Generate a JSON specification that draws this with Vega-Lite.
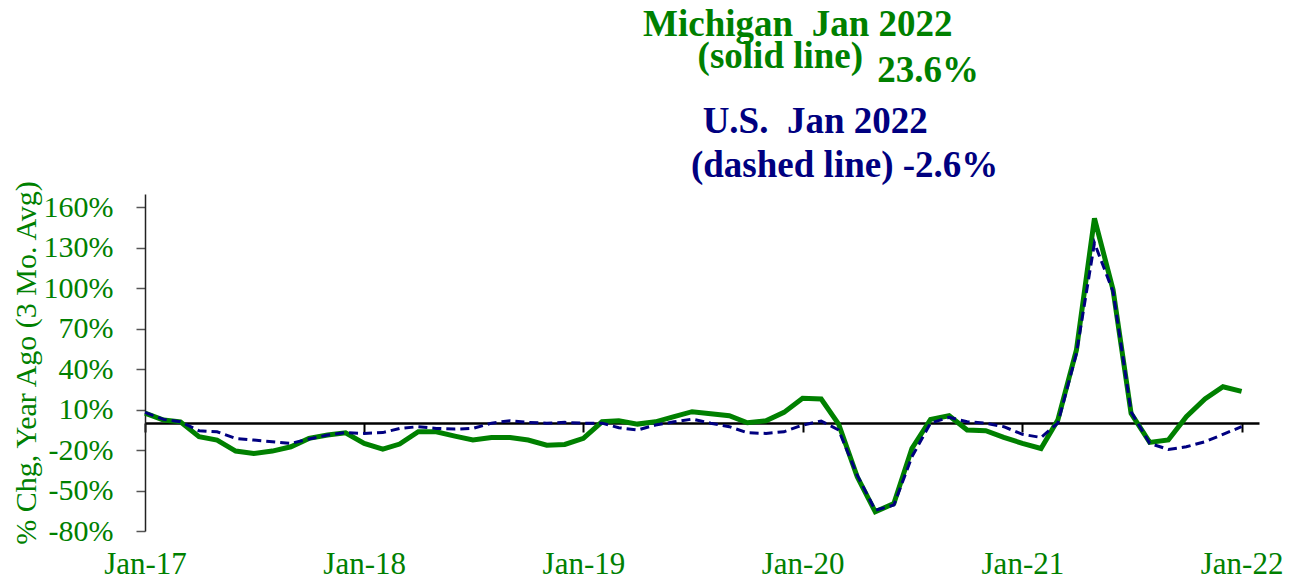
{
  "$schema": "https://vega.github.io/schema/vega-lite/v6.json",
  "width": 1114,
  "height": 337,
  "autosize": {"type": "none"},
  "padding": {"left": 145, "top": 194, "right": 36, "bottom": 51},
  "background": "white",
  "config": {
    "view": {"stroke": null},
    "font": "Liberation Serif",
    "axis": {"grid": false, "labelFont": "Liberation Serif", "titleFont": "Liberation Serif"},
    "text": {"font": "Liberation Serif"}
  },
  "data": {
    "values": [
      {"date": "2017-01-01T00:00", "michigan": 7.5, "us": 8},
      {"date": "2017-02-01T00:00", "michigan": 2.3, "us": 2.8},
      {"date": "2017-03-01T00:00", "michigan": 1, "us": 1},
      {"date": "2017-04-01T00:00", "michigan": -10, "us": -5.6},
      {"date": "2017-05-01T00:00", "michigan": -12.5, "us": -6.4},
      {"date": "2017-06-01T00:00", "michigan": -20.7, "us": -11.3},
      {"date": "2017-07-01T00:00", "michigan": -22.5, "us": -12.5},
      {"date": "2017-08-01T00:00", "michigan": -20.7, "us": -13.8},
      {"date": "2017-09-01T00:00", "michigan": -17.5, "us": -15},
      {"date": "2017-10-01T00:00", "michigan": -11.3, "us": -11.8},
      {"date": "2017-11-01T00:00", "michigan": -8.8, "us": -8.8},
      {"date": "2017-12-01T00:00", "michigan": -7.1, "us": -7},
      {"date": "2018-01-01T00:00", "michigan": -15, "us": -7.6},
      {"date": "2018-02-01T00:00", "michigan": -19.2, "us": -7},
      {"date": "2018-03-01T00:00", "michigan": -15.5, "us": -3.9},
      {"date": "2018-04-01T00:00", "michigan": -6.4, "us": -2.6},
      {"date": "2018-05-01T00:00", "michigan": -6.4, "us": -3.9},
      {"date": "2018-06-01T00:00", "michigan": -9.6, "us": -4.4},
      {"date": "2018-07-01T00:00", "michigan": -12.5, "us": -3.9},
      {"date": "2018-08-01T00:00", "michigan": -10.6, "us": 0},
      {"date": "2018-09-01T00:00", "michigan": -10.6, "us": 1.8},
      {"date": "2018-10-01T00:00", "michigan": -12.5, "us": 0.6},
      {"date": "2018-11-01T00:00", "michigan": -16.3, "us": 0},
      {"date": "2018-12-01T00:00", "michigan": -15.8, "us": 0.6},
      {"date": "2019-01-01T00:00", "michigan": -11.3, "us": 0},
      {"date": "2019-02-01T00:00", "michigan": 1, "us": 0},
      {"date": "2019-03-01T00:00", "michigan": 1.8, "us": -3.4},
      {"date": "2019-04-01T00:00", "michigan": -0.7, "us": -5.1},
      {"date": "2019-05-01T00:00", "michigan": 1, "us": -1.4},
      {"date": "2019-06-01T00:00", "michigan": 4.8, "us": 1},
      {"date": "2019-07-01T00:00", "michigan": 8.5, "us": 3},
      {"date": "2019-08-01T00:00", "michigan": 7, "us": 0},
      {"date": "2019-09-01T00:00", "michigan": 5.5, "us": -2.6},
      {"date": "2019-10-01T00:00", "michigan": 0.3, "us": -7.1},
      {"date": "2019-11-01T00:00", "michigan": 1.8, "us": -7.6},
      {"date": "2019-12-01T00:00", "michigan": 8, "us": -6.4},
      {"date": "2020-01-01T00:00", "michigan": 18.4, "us": -1.4},
      {"date": "2020-02-01T00:00", "michigan": 17.9, "us": 1.6},
      {"date": "2020-03-01T00:00", "michigan": -0.7, "us": -5.1},
      {"date": "2020-04-01T00:00", "michigan": -39.8, "us": -38.6},
      {"date": "2020-05-01T00:00", "michigan": -65.8, "us": -64.6},
      {"date": "2020-06-01T00:00", "michigan": -59.6, "us": -60.8},
      {"date": "2020-07-01T00:00", "michigan": -18.8, "us": -25},
      {"date": "2020-08-01T00:00", "michigan": 2.8, "us": 0},
      {"date": "2020-09-01T00:00", "michigan": 5.5, "us": 4.3},
      {"date": "2020-10-01T00:00", "michigan": -5.1, "us": 1},
      {"date": "2020-11-01T00:00", "michigan": -5.6, "us": 0},
      {"date": "2020-12-01T00:00", "michigan": -10.6, "us": -2.6},
      {"date": "2021-01-01T00:00", "michigan": -15, "us": -8.3},
      {"date": "2021-02-01T00:00", "michigan": -18.8, "us": -10.6},
      {"date": "2021-03-01T00:00", "michigan": 2.3, "us": 0},
      {"date": "2021-04-01T00:00", "michigan": 54.3, "us": 51.8},
      {"date": "2021-05-01T00:00", "michigan": 152, "us": 133.6},
      {"date": "2021-06-01T00:00", "michigan": 98.9, "us": 97.6},
      {"date": "2021-07-01T00:00", "michigan": 7.3, "us": 8.5},
      {"date": "2021-08-01T00:00", "michigan": -14.3, "us": -15},
      {"date": "2021-09-01T00:00", "michigan": -12.5, "us": -19.5},
      {"date": "2021-10-01T00:00", "michigan": 4.8, "us": -17.5},
      {"date": "2021-11-01T00:00", "michigan": 17.9, "us": -13.8},
      {"date": "2021-12-01T00:00", "michigan": 27, "us": -8.3},
      {"date": "2022-01-01T00:00", "michigan": 23.6, "us": -2.6}
    ]
  },
  "resolve": {"axis": {"x": "independent"}},
  "layer": [
    {
      "mark": {"type": "point", "opacity": 0},
      "encoding": {
        "x": {
          "field": "date", "type": "temporal",
          "scale": {"domain": [{"year": 2017, "month": 1, "date": 1}, {"year": 2022, "month": 1, "date": 30}]},
          "axis": {
            "orient": "bottom", "offset": -108, "labels": false, "title": null,
            "domain": true, "domainColor": "black", "domainWidth": 2.5,
            "ticks": true, "tickColor": "black", "tickWidth": 2, "tickSize": 9,
            "values": [
              {"year": 2017, "month": 1, "date": 1}, {"year": 2018, "month": 1, "date": 1},
              {"year": 2019, "month": 1, "date": 1}, {"year": 2020, "month": 1, "date": 1},
              {"year": 2021, "month": 1, "date": 1}, {"year": 2022, "month": 1, "date": 1}
            ]
          }
        }
      }
    },
    {
      "mark": {"type": "line", "color": "#008000", "strokeWidth": 5, "strokeJoin": "miter"},
      "encoding": {
        "x": {
          "field": "date", "type": "temporal",
          "axis": {
            "orient": "bottom", "title": null, "domain": false, "ticks": false,
            "format": "%b-%y", "labelFontSize": 31, "labelColor": "#008000", "labelPadding": 18,
            "labelFlush": false, "labelAlign": "center",
            "values": [
              {"year": 2017, "month": 1, "date": 1}, {"year": 2018, "month": 1, "date": 1},
              {"year": 2019, "month": 1, "date": 1}, {"year": 2020, "month": 1, "date": 1},
              {"year": 2021, "month": 1, "date": 1}, {"year": 2022, "month": 1, "date": 1}
            ]
          }
        },
        "y": {
          "field": "michigan", "type": "quantitative",
          "scale": {"domain": [-80, 170], "nice": false},
          "axis": {
            "title": "% Chg, Year Ago (3 Mo. Avg)", "titleFontSize": 30, "titleColor": "#008000",
            "titleFontWeight": "normal", "titlePadding": 2,
            "values": [-80, -50, -20, 10, 40, 70, 100, 130, 160],
            "labelExpr": "datum.value + '%'",
            "labelFontSize": 30, "labelColor": "#008000", "labelPadding": 23,
            "domainColor": "#222222", "domainWidth": 1.5,
            "tickColor": "#555555", "tickSize": 9, "tickWidth": 1.5
          }
        }
      }
    },
    {
      "mark": {"type": "line", "color": "#000080", "strokeWidth": 3, "strokeDash": [9, 5]},
      "encoding": {
        "x": {"field": "date", "type": "temporal", "axis": null},
        "y": {"field": "us", "type": "quantitative"}
      }
    },
    {
      "data": {"values": [{}]},
      "mark": {"type": "text", "text": "Michigan \u00a0Jan 2022", "fontSize": 37, "fontWeight": "bold", "color": "#008000", "align": "center", "baseline": "alphabetic"},
      "encoding": {
        "x": {"datum": {"year": 2019, "month": 12, "date": 24}, "type": "temporal", "axis": null},
        "y": {"datum": 287, "type": "quantitative"}
      }
    },
    {
      "data": {"values": [{}]},
      "mark": {"type": "text", "text": "(solid line)", "fontSize": 37, "fontWeight": "bold", "color": "#008000", "align": "center", "baseline": "alphabetic"},
      "encoding": {
        "x": {"datum": {"year": 2019, "month": 11, "date": 25}, "type": "temporal", "axis": null},
        "y": {"datum": 263.5, "type": "quantitative"}
      }
    },
    {
      "data": {"values": [{}]},
      "mark": {"type": "text", "text": "23.6%", "fontSize": 37, "fontWeight": "bold", "color": "#008000", "align": "center", "baseline": "alphabetic"},
      "encoding": {
        "x": {"datum": {"year": 2020, "month": 7, "date": 28}, "type": "temporal", "axis": null},
        "y": {"datum": 253.1, "type": "quantitative"}
      }
    },
    {
      "data": {"values": [{}]},
      "mark": {"type": "text", "text": "U.S. \u00a0Jan 2022", "fontSize": 37, "fontWeight": "bold", "color": "#000080", "align": "center", "baseline": "alphabetic"},
      "encoding": {
        "x": {"datum": {"year": 2020, "month": 1, "date": 22}, "type": "temporal", "axis": null},
        "y": {"datum": 215.3, "type": "quantitative"}
      }
    },
    {
      "data": {"values": [{}]},
      "mark": {"type": "text", "text": "(dashed line) -2.6%", "fontSize": 37, "fontWeight": "bold", "color": "#000080", "align": "center", "baseline": "alphabetic"},
      "encoding": {
        "x": {"datum": {"year": 2020, "month": 3, "date": 11}, "type": "temporal", "axis": null},
        "y": {"datum": 182.6, "type": "quantitative"}
      }
    }
  ]
}
